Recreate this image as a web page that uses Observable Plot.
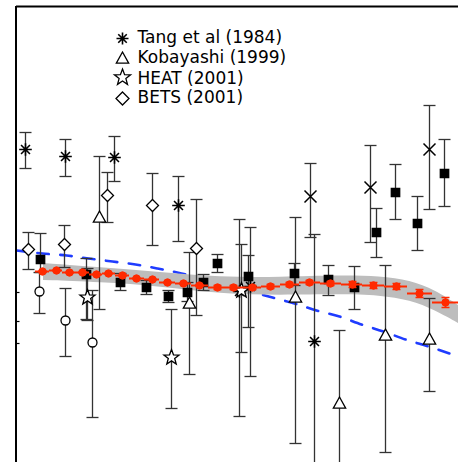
<!DOCTYPE html>
<html>
<head>
<meta charset="utf-8">
<script src="https://cdn.jsdelivr.net/npm/d3@7"></script>
<script src="https://cdn.jsdelivr.net/npm/@observablehq/plot@0.6"></script>
<style>
  html, body { margin: 0; padding: 0; background: #fff; }
  #chart svg { display: block; }
</style>
</head>
<body>
<div id="chart"></div>
<script>
// Rows are [x, y, yLow, yHigh] in chart units (x: 0–442, y: 0–456).
const tang = [[9,313,294,330],[49,306,286,323],[98,305,281,326],[162,257,221,286],[223,171,46,243],[234,176,86,235],[298,121,-20,228]];
const kobayashi = [[83,245,153,306],[173,159,88,210],[279,165,19,245],[323,59,-20,132],[369,127,10,197],[413,123,71,164]];
const heat = [[71,165,142,194],[155,105,54,153],[225,172,110,218]];
const bets = [[12,213,193,230],[48,218,195,237],[91,267,240,290],[136,257,217,289],[180,214,147,263]];
const squareSeries = [[24,203,190,229],[70,188,143,204],[104,180,172,189],[130,175,168,182],[152,166,160,172],[171,170,161,180],[187,180,172,188],[201,199,190,208],[232,186,135,207],[278,189,177,199],[312,183,167,197],[338,175,153,196],[360,230,205,254],[379,270,243,298],[401,239,212,266],[428,289,256,323]];
const circleSeries = [[23,171,149,190],[49,142,106,174],[76,120,45,172]];
const crossSeries = [[294,266,225,299],[354,275,220,317],[413,313,253,357]];

// Binned spectrum with its systematic band
const fermiX = [26,40,53,66,80,92,106,120,136,151,167,183,201,217,236,254,273,293,314,336,357,380,403,429];
const fermiY = [191,192,190,190,188,189,187,184,183,180,179,177,175,175,175,176,178,180,179,178,177,176,169,160];
const fermiErr = [1,1,1,1,1,1,1,1,1,1,1,1,2,2,2,2,2,2,2,3,3,3,4,5];
const fermiEdges = [19,33,46,59,73,86,99,113,128,143,159,175,192,209,226,245,264,283,304,325,346,368,391,416,442];
const bandX = [27,84,144,204,264,324,364,394,419,442];
const bandLow = [182,180,176,168,167,168,167,162,152,139];
const bandHigh = [199,195,190,185,185,187,186,182,172,157];

// Conventional model curve
const modelX = [0,26,50,72,96,119,141,165,189,212,234,256,278,300,323,345,367,389,412,442];
const modelY = [212,209,207,204,201,198,194,189,183,177,171,165,159,152,146,138,131,123,116,106];

// Minor ticks on the left axis
const leftTicks = [170, 141, 119];

const legendLabels = ["Tang et al (1984)", "Kobayashi (1999)", "HEAT (2001)", "BETS (2001)"];

// Marker shapes drawn with r as the half-extent
const shape = (f) => ({draw(ctx, size) { f(ctx, Math.sqrt(size / Math.PI)); }});
const asterisk8 = shape((c, r) => {
  for (const a of [0, 45, 90, 135]) {
    const t = a * Math.PI / 180, dx = r * Math.cos(t), dy = r * Math.sin(t);
    c.moveTo(dx, dy); c.lineTo(-dx, -dy);
  }
});
const triangleUp = shape((c, r) => { c.moveTo(0, -r); c.lineTo(r * 0.95, r * 0.72); c.lineTo(-r * 0.95, r * 0.72); c.closePath(); });
const star5 = shape((c, r) => {
  for (let i = 0; i < 10; i++) {
    const rr = i % 2 ? r * 0.42 : r, t = -Math.PI / 2 + i * Math.PI / 5;
    i ? c.lineTo(rr * Math.cos(t), rr * Math.sin(t)) : c.moveTo(rr * Math.cos(t), rr * Math.sin(t));
  }
  c.closePath();
});
const diamond = shape((c, r) => { c.moveTo(0, -r); c.lineTo(r, 0); c.lineTo(0, r); c.lineTo(-r, 0); c.closePath(); });
const square = shape((c, r) => { c.rect(-r, -r, 2 * r, 2 * r); });
const circle = shape((c, r) => { c.moveTo(r, 0); c.arc(0, 0, r, 0, 2 * Math.PI); });
const times = shape((c, r) => { c.moveTo(-r, -r); c.lineTo(r, r); c.moveTo(r, -r); c.lineTo(-r, r); });
const cap = shape((c, r) => { c.moveTo(-r, 0); c.lineTo(r, 0); });
const tickRight = shape((c, r) => { c.moveTo(0, 0); c.lineTo(r, 0); });

const barColor = "#333";
function errorBars(rows) {
  return [
    Plot.ruleX(rows, {x: d => d[0], y1: d => d[2], y2: d => d[3], stroke: barColor, strokeWidth: 1.3, clip: true}),
    Plot.dot(rows, {x: d => d[0], y: d => d[2], symbol: cap, r: 6, stroke: barColor, fill: "none", strokeWidth: 1.3, clip: true}),
    Plot.dot(rows, {x: d => d[0], y: d => d[3], symbol: cap, r: 6, stroke: barColor, fill: "none", strokeWidth: 1.3, clip: true})
  ];
}
function markers(rows, symbol, r, fill, strokeWidth = 1.3) {
  return Plot.dot(rows, {x: d => d[0], y: d => d[1], symbol, r, stroke: "black", fill, strokeWidth});
}

const red = "#ff2a00";
const idx = d3.range(fermiX.length);
const legendSymbols = [[asterisk8, 6, "none", 1.6], [triangleUp, 6.5, "white", 1.3], [star5, 8.5, "white", 1.3], [diamond, 6.5, "white", 1.3]];
const legendDotX = 106, legendTextX = 121;
const legendDotY = [424, 404, 385, 364];
const legendTextY = [425, 405, 384, 365];

const chart = Plot.plot({
  width: 458,
  height: 462,
  marginLeft: 16,
  marginTop: 6,
  marginRight: 0,
  marginBottom: 0,
  x: {domain: [0, 442], axis: null},
  y: {domain: [0, 456], axis: null},
  style: {fontFamily: "DejaVu Sans", background: "white"},
  marks: [
    Plot.line(modelX.map((x, i) => [x, modelY[i]]), {x: d => d[0], y: d => d[1], curve: "monotone-x", stroke: "#1f3cff", strokeWidth: 2.6, strokeDasharray: "11.5,11.5", strokeDashoffset: 2}),
    Plot.areaY(bandX.map((x, i) => [x, bandLow[i], bandHigh[i]]), {x: d => d[0], y1: d => d[1], y2: d => d[2], curve: "basis", fill: "#bdbdbd"}),
    ...errorBars(tang), ...errorBars(kobayashi), ...errorBars(heat), ...errorBars(bets),
    ...errorBars(squareSeries), ...errorBars(circleSeries), ...errorBars(crossSeries),
    markers(tang, asterisk8, 6.3, "none", 1.6),
    markers(kobayashi, triangleUp, 6.5, "white"),
    markers(heat, star5, 8, "white"),
    markers(bets, diamond, 6, "white"),
    markers(squareSeries, square, 4.2, "black"),
    markers(circleSeries, circle, 4.5, "white"),
    markers(crossSeries, times, 6, "none", 1.5),
    Plot.ruleY(idx, {y: i => fermiY[i], x1: i => fermiEdges[i], x2: i => fermiEdges[i + 1], stroke: red, strokeWidth: 2}),
    Plot.ruleX(idx, {x: i => fermiX[i], y1: i => fermiY[i] - fermiErr[i], y2: i => fermiY[i] + fermiErr[i], stroke: red, strokeWidth: 1.5}),
    Plot.dot(idx, {x: i => fermiX[i], y: i => fermiY[i] - fermiErr[i], symbol: cap, r: 4, stroke: red, fill: "none", strokeWidth: 1.5}),
    Plot.dot(idx, {x: i => fermiX[i], y: i => fermiY[i] + fermiErr[i], symbol: cap, r: 4, stroke: red, fill: "none", strokeWidth: 1.5}),
    Plot.dot(idx, {x: i => fermiX[i], y: i => fermiY[i], r: 3.7, fill: red, stroke: red, strokeWidth: 1}),
    ...legendLabels.map((label, i) => Plot.dot([label], {x: legendDotX, y: legendDotY[i], symbol: legendSymbols[i][0], r: legendSymbols[i][1], fill: legendSymbols[i][2], stroke: "black", strokeWidth: legendSymbols[i][3]})),
    Plot.text(legendLabels, {x: legendTextX, y: (d, i) => legendTextY[i], text: d => d, textAnchor: "start", fontSize: 17, fill: "black"}),
    Plot.dot(leftTicks, {x: 0, y: d => d, symbol: tickRight, r: 3, stroke: "black", fill: "none", strokeWidth: 1.2}),
    Plot.ruleX([0], {stroke: "black", strokeWidth: 2, dx: -0.5}),
    Plot.ruleY([456], {stroke: "black", strokeWidth: 2})
  ]
});
document.getElementById("chart").append(chart);
</script>
</body>
</html>
